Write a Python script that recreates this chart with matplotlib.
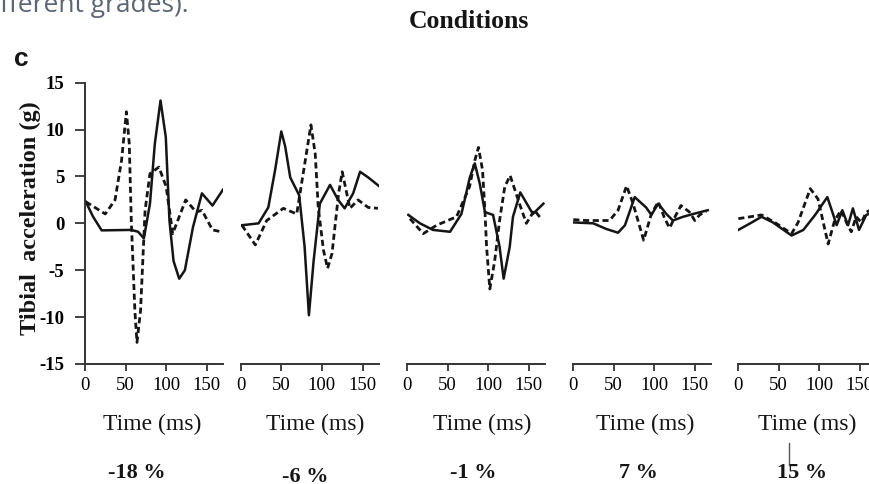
import matplotlib
matplotlib.use("Agg")
import matplotlib.pyplot as plt
from matplotlib.lines import Line2D

plt.rcParams["axes.unicode_minus"] = False

# -------------------------
# Data (time in ms, acceleration in g)
# -------------------------

grades = ["-18 %", "-6 %", "-1 %", "7 %", "15 %"]
x_ticks = [0, 50, 100, 150]
y_ticks = [-15, -10, -5, 0, 5, 10, 15]

# -18 %
t_m18_solid = [1, 10, 20.5, 57, 65.5, 72.5, 80, 86, 93, 99.5, 104, 109, 116, 123, 133, 144, 157, 170]
g_m18_solid = [2.3, 0.7, -0.75, -0.7, -0.9, -1.6, 2.1, 8.5, 13.1, 9.2, 0.3, -4.0, -5.9, -5.0, -0.4, 3.2, 1.9, 3.6]
t_m18_dash = [1, 25, 37, 45, 51, 54.5, 57, 61.4, 64, 68.4, 74, 80, 91, 100, 108, 124, 137, 144, 157, 168]
g_m18_dash = [2.3, 1.0, 2.5, 6.7, 11.9, 8.5, 0.3, -9.3, -12.7, -9.3, 1.4, 5.3, 6.0, 3.9, -1.1, 2.5, 1.2, 1.4, -0.7, -0.9]

# -6 %
t_m6_solid = [1.5, 22, 34, 42.4, 50, 54.8, 61, 72, 78.7, 84, 89.8, 97.5, 110, 120, 128, 138.5, 147, 157, 170]
g_m6_solid = [-0.2, 0, 1.7, 5.7, 9.8, 8.2, 4.9, 3.0, -2.5, -9.8, -4.0, 2.1, 4.1, 2.5, 1.6, 3.2, 5.5, 4.9, 4.0]
t_m6_dash = [1.5, 18, 32, 52.5, 69, 79.5, 86.5, 91.8, 95.5, 102, 107, 112.5, 116, 120.6, 125, 134.5, 144.5, 157, 169]
g_m6_dash = [-0.2, -2.3, 0.3, 1.6, 1.0, 6.7, 10.5, 7.4, 1.7, -2.9, -4.8, -3.2, -0.4, 3.2, 5.5, 1.6, 2.5, 1.7, 1.6]

# -1 %
t_m1_solid = [1.6, 16, 32, 53, 67, 77.4, 83.5, 89.7, 96, 106, 114, 119, 126.5, 130.5, 139.5, 155, 168]
g_m1_solid = [0.9, 0, -0.7, -0.9, 1.0, 4.9, 6.4, 4.2, 1.2, 0.9, -2.5, -5.9, -2.5, 0.7, 3.3, 1.0, 2.1]
t_m1_dash = [3.7, 20, 36.5, 61, 77, 83.5, 88, 93, 96, 98, 102, 108, 114, 120.4, 127, 138.5, 147, 157, 165]
g_m1_dash = [0.5, -1.1, -0.2, 0.7, 3.9, 6.7, 8.1, 5.7, 1.3, -2.5, -7.0, -4.0, 0.3, 3.9, 5.1, 2.1, 0, 1.4, 0.5]

# 7 %
t_p7_solid = [0.4, 25, 41, 55.5, 64, 76, 90, 96.5, 105, 115, 123, 135.5, 148, 166]
g_p7_solid = [0.1, 0, -0.6, -1.0, -0.2, 2.8, 1.7, 0.9, 2.1, 1.0, 0.3, 0.7, 1.0, 1.4]
t_p7_dash = [0.4, 17, 45, 55.5, 66, 74, 87, 96.5, 105, 113, 119, 125, 133, 143.5, 150, 156, 164]
g_p7_dash = [0.4, 0.3, 0.3, 1.4, 4.0, 2.1, -1.8, 1.0, 2.3, 0.5, -0.5, 0.6, 1.9, 1.2, 0.3, 0.9, 1.3]

# 15 %
t_p15_solid = [0.4, 15, 29, 43, 66, 80.5, 95, 110, 117, 121.5, 128.5, 135.5, 141.5, 149, 158, 168]
g_p15_solid = [-0.7, 0, 0.7, 0.1, -1.3, -0.7, 0.9, 2.8, 1.0, -0.2, 1.4, -0.2, 1.6, -0.7, 0.9, 1.2]
t_p15_dash = [0.4, 15, 29, 47, 66, 74, 89, 98.5, 111, 119, 127, 133.5, 139.5, 145.5, 152, 158, 168]
g_p15_dash = [0.5, 0.7, 0.9, 0, -1.1, 0.1, 3.7, 2.6, -2.2, 0.3, 1.4, 0.1, -0.9, 0.7, 0.1, 1.2, 1.6]

solid_series = [(t_m18_solid, g_m18_solid), (t_m6_solid, g_m6_solid), (t_m1_solid, g_m1_solid),
                (t_p7_solid, g_p7_solid), (t_p15_solid, g_p15_solid)]
dash_series = [(t_m18_dash, g_m18_dash), (t_m6_dash, g_m6_dash), (t_m1_dash, g_m1_dash),
               (t_p7_dash, g_p7_dash), (t_p15_dash, g_p15_dash)]

# -------------------------
# Layout (pixels of the 869x484 picture)
# -------------------------

W, H = 869, 484
fig = plt.figure(figsize=(W / 100, H / 100), dpi=100)

panel_left = [85, 240.7, 407, 573, 738]
px_per_ms = 0.812
axis_top, axis_bottom = 82.7, 364
x_max = 170

serif = "Liberation Serif"
ink = "#151515"

for i in range(5):
    left = panel_left[i]
    width = x_max * px_per_ms
    ax = fig.add_axes([left / W, 1 - axis_bottom / H, width / W, (axis_bottom - axis_top) / H])

    t, g = solid_series[i]
    ax.plot(t, g, color=ink, lw=1.8, solid_joinstyle="round")
    t, g = dash_series[i]
    ax.plot(t, g, color=ink, lw=2.0, linestyle=(0, (2.2, 1.3)))

    ax.set_xlim(0, x_max)
    ax.set_ylim(-15, 15)
    ax.set_xticks(x_ticks)
    ax.set_xticklabels([str(v) for v in x_ticks], fontfamily=serif, fontsize=13.5)
    ax.tick_params(axis="x", direction="out", length=5, width=1.3, color="#333", pad=4)

    for side in ["top", "right"]:
        ax.spines[side].set_visible(False)
    ax.spines["bottom"].set_linewidth(1.4)
    ax.spines["bottom"].set_color("#333")

    if i == 0:
        ax.set_yticks(y_ticks)
        ax.set_yticklabels([str(v) for v in y_ticks], fontfamily=serif,
                           fontsize=13.5, fontweight="bold")
        ax.tick_params(axis="y", direction="out", length=7, width=1.3, color="#333", pad=8)
        ax.spines["left"].set_linewidth(1.4)
        ax.spines["left"].set_color("#333")
    else:
        ax.spines["left"].set_visible(False)
        ax.set_yticks([])

    ax.patch.set_alpha(0)

# -------------------------
# Texts
# -------------------------

time_label_x = [152.5, 315, 481.7, 645, 807.5]
grade_x = [136.7, 305, 473, 638, 802.5]
grade_y = [473, 477, 473, 473, 473]

for i in range(5):
    fig.text(time_label_x[i] / W, 1 - 424 / H, "Time (ms)", ha="center", va="center",
             fontfamily=serif, fontsize=17, color=ink)
    fig.text(grade_x[i] / W, 1 - grade_y[i] / H, grades[i], ha="center", va="center",
             fontfamily=serif, fontsize=16, fontweight="bold", color=ink)

fig.text(468.5 / W, 1 - 22 / H, "Conditions", ha="center", va="center",
         fontfamily=serif, fontsize=18.5, fontweight="bold", color=ink)

fig.text(30 / W, 1 - 218 / H, "Tibial  acceleration (g)", ha="center", va="center",
         rotation=90, fontfamily=serif, fontsize=17.5, fontweight="bold", color=ink)

fig.text(21.5 / W, 1 - 58.5 / H, "c", ha="center", va="center",
         fontfamily="Liberation Sans", fontsize=19, fontweight="bold", color=ink)

fig.text(0 / W, 1 - 12 / H, "fferent grades).", ha="left", va="baseline",
         fontfamily="Open Sans", fontsize=19, color="#5b6673")

# small stray cursor mark below the last panel
fig.add_artist(Line2D([789 / W, 789 / W], [1 - 443 / H, 1 - 465 / H],
                      transform=fig.transFigure, color="#555", lw=1))

fig.savefig("out.png", dpi=100)
plt.close(fig)
